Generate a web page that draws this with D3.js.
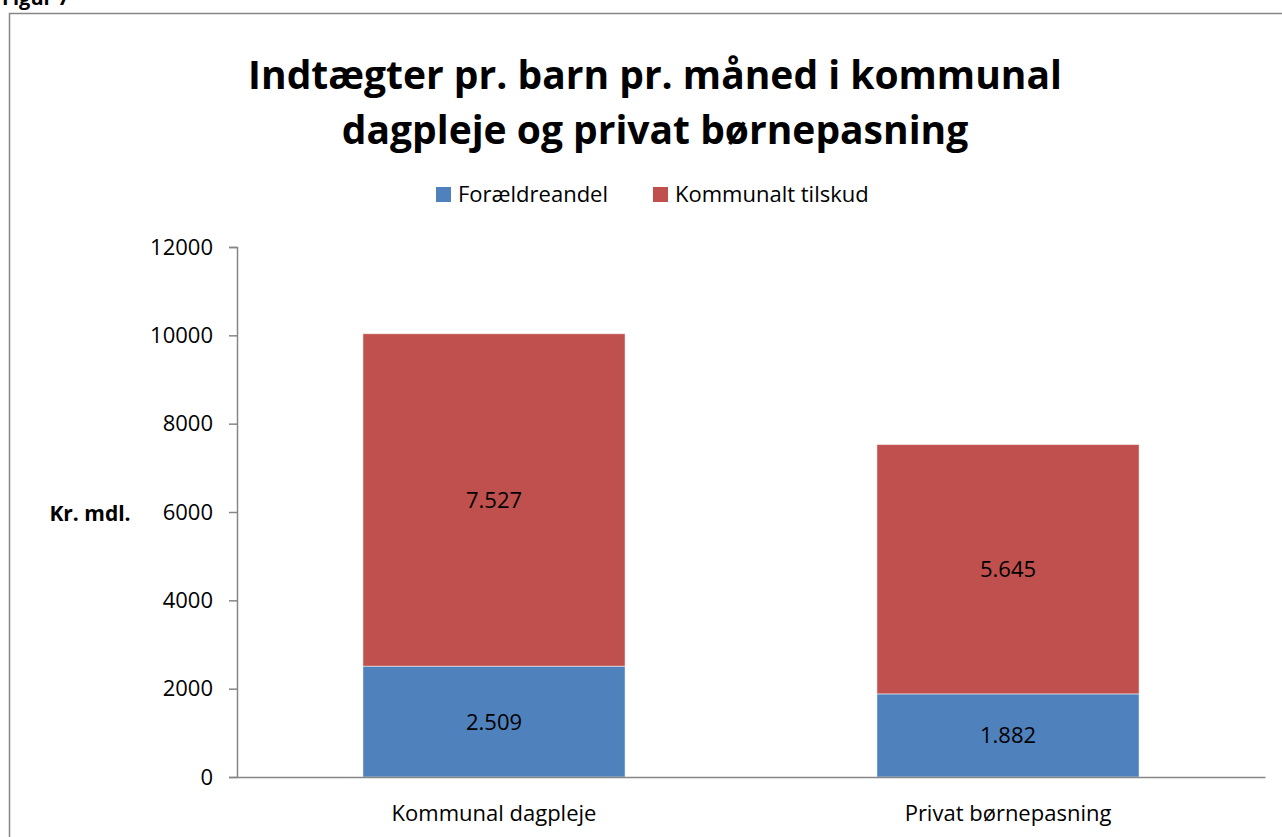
<!DOCTYPE html>
<html>
<head>
<meta charset="utf-8">
<script src="https://cdn.jsdelivr.net/npm/d3@7"></script>
<style>
  body { margin: 0; background: #fff; }
  svg { display: block; font-family: "Open Sans", "Noto Sans", sans-serif; }
</style>
</head>
<body>
<script>
// Data
var categories = ["Kommunal dagpleje", "Privat børnepasning"];
var seriesNames = ["Forældreandel", "Kommunalt tilskud"];
var foraeldreandel = [2509, 1882];
var kommunaltTilskud = [7527, 5645];
var yTicks = [0, 2000, 4000, 6000, 8000, 10000, 12000];
var colors = ["#4F81BD", "#C0504D"];

var width = 1282, height = 837;
var fontSize = 22;
var svg = d3.select("body").append("svg")
  .attr("width", width)
  .attr("height", height);

// Heading above the frame (cut off at the top)
svg.append("text")
  .attr("x", 2)
  .attr("y", 5)
  .attr("font-size", 20)
  .attr("font-weight", "bold")
  .text("Figur 7");

// Chart frame
svg.append("rect")
  .attr("x", 9.5)
  .attr("y", 13.5)
  .attr("width", 1290)
  .attr("height", 840)
  .attr("fill", "none")
  .attr("stroke", "#868686")
  .attr("stroke-width", 1.5);

// Title
var title = svg.append("text")
  .attr("text-anchor", "middle")
  .attr("font-size", 39)
  .attr("font-weight", "bold")
  .attr("fill", "#000");
title.append("tspan").attr("x", 655).attr("y", 89)
  .text("Indtægter pr. barn pr. måned i kommunal");
title.append("tspan").attr("x", 655).attr("y", 144)
  .text("dagpleje og privat børnepasning");

// Legend
var legendX = [436, 653];
seriesNames.forEach(function(name, i) {
  svg.append("rect")
    .attr("x", legendX[i])
    .attr("y", 187)
    .attr("width", 15)
    .attr("height", 15)
    .attr("fill", colors[i]);
  svg.append("text")
    .attr("x", legendX[i] + 22)
    .attr("y", 202)
    .attr("font-size", fontSize)
    .text(name);
});

// Scales
var x = d3.scaleBand()
  .domain(categories)
  .range([237, 1265])
  .paddingInner(0.49)
  .paddingOuter(0.245);

var y = d3.scaleLinear()
  .domain([0, 12000])
  .range([777, 247]);

// Stack
var table = categories.map(function(c, i) {
  return { cat: c, a: foraeldreandel[i], b: kommunaltTilskud[i] };
});
var stacked = d3.stack().keys(["a", "b"])(table);

var layers = svg.selectAll(".layer")
  .data(stacked)
  .enter().append("g")
  .attr("fill", (d, i) => colors[i]);

layers.selectAll("rect")
  .data(d => d)
  .enter().append("rect")
  .attr("x", d => x(d.data.cat))
  .attr("y", d => y(d[1]))
  .attr("width", x.bandwidth())
  .attr("height", d => y(d[0]) - y(d[1]))
  .attr("stroke", "#fff")
  .attr("stroke-opacity", 0.5)
  .attr("stroke-width", 1);

// Value labels
var fmt = d3.formatLocale({ decimal: ",", thousands: ".", grouping: [3], currency: ["", " kr."] }).format(",d");
layers.selectAll("text")
  .data(d => d)
  .enter().append("text")
  .attr("x", d => x(d.data.cat) + x.bandwidth() / 2)
  .attr("y", d => (y(d[0]) + y(d[1])) / 2 + 8)
  .attr("text-anchor", "middle")
  .attr("font-size", fontSize)
  .attr("fill", "#000")
  .text(d => fmt(d[1] - d[0]));

// Y axis
var yAxis = svg.append("g")
  .attr("transform", "translate(237,0)")
  .call(d3.axisLeft(y).tickValues(yTicks).tickSize(8).tickPadding(16).tickFormat(d3.format("d")));
yAxis.selectAll("text").attr("font-size", fontSize).attr("fill", "#000").attr("font-family", "Open Sans, Noto Sans, sans-serif");
yAxis.selectAll("line, path").attr("stroke", "#868686").attr("stroke-width", 1.5);

// X axis
var xAxis = svg.append("g")
  .attr("transform", "translate(0,777)")
  .call(d3.axisBottom(x).tickSize(0).tickPadding(28));
xAxis.select(".domain").attr("stroke", "#868686").attr("stroke-width", 1.5);
xAxis.selectAll("text").attr("font-size", fontSize).attr("fill", "#000").attr("font-family", "Open Sans, Noto Sans, sans-serif");

// Y axis label
svg.append("text")
  .attr("x", 90)
  .attr("y", 521)
  .attr("text-anchor", "middle")
  .attr("font-size", 21)
  .attr("font-weight", "bold")
  .text("Kr. mdl.");
</script>
</body>
</html>
